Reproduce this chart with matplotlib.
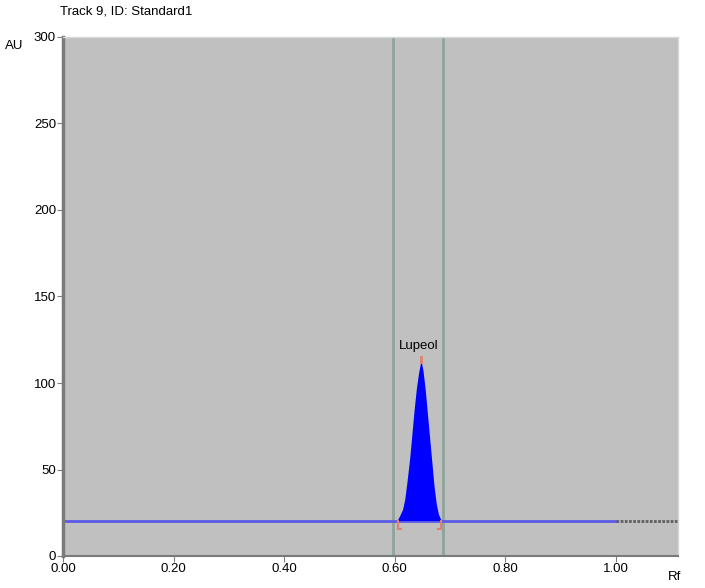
import matplotlib.pyplot as plt
import numpy as np

plt.rcParams['font.family'] = ['Liberation Sans', 'DejaVu Sans']

# densitogram of track 9 (Standard1)
baseline_au = 20.5
peak_rf = [0.604, 0.609, 0.614, 0.618, 0.622, 0.627, 0.631, 0.635, 0.639, 0.643, 0.646, 0.648,
           0.651, 0.655, 0.659, 0.663, 0.667, 0.671, 0.675, 0.679, 0.684]
peak_au = [20.5, 23.5, 27.0, 33.0, 43.0, 57.0, 71.0, 85.0, 97.0, 106.0, 111.0, 112.0,
           107.0, 96.0, 82.0, 68.0, 54.0, 40.0, 30.0, 24.0, 20.5]
peak_name = 'Lupeol'
peak_start, peak_max, peak_end = 0.606, 0.647, 0.684
window_lines = [0.597, 0.687]
scan_end = 1.00
x_max = 1.112

xticks = [0.0, 0.2, 0.4, 0.6, 0.8, 1.0]
xtick_labels = ['0.00', '0.20', '0.40', '0.60', '0.80', '1.00']
yticks = [0, 50, 100, 150, 200, 250, 300]

fig = plt.figure(figsize=(7.05, 5.88), dpi=100)
ax = fig.add_axes([63 / 705, 1 - 556 / 588, 615 / 705, 519 / 588])
ax.set_facecolor('#c0c0c0')

for x in window_lines:
    ax.axvline(x, color='#8ea59c', lw=2, zorder=1)

ax.fill_between(peak_rf, baseline_au, peak_au, color='#0000ff', lw=0, zorder=3)
ax.plot([0, scan_end], [baseline_au, baseline_au], color='#5a5ae6', lw=2, zorder=2)
ax.plot([scan_end, x_max], [baseline_au, baseline_au], color='#606060', lw=2,
        ls=(0, (1, 0.5)), zorder=2)

# peak start / end brackets and top marker
mark = '#e08070'
ax.plot([peak_start, peak_start, peak_start + 0.006], [baseline_au, baseline_au - 5, baseline_au - 5],
        color=mark, lw=1.5, zorder=4)
ax.plot([peak_end, peak_end, peak_end - 0.006], [baseline_au, baseline_au - 5, baseline_au - 5],
        color=mark, lw=1.5, zorder=4)
ax.plot([peak_max, peak_max], [112, 115], color=mark, lw=2, zorder=4)
ax.text(peak_max - 0.004, 118, peak_name, ha='center', va='bottom', fontsize=9.5)

ax.set_xlim(0, x_max)
ax.set_ylim(0, 300)
ax.set_xticks(xticks)
ax.set_xticklabels(xtick_labels)
ax.set_yticks(yticks)
ax.tick_params(axis='both', labelsize=9.5, length=4, color='#808080', pad=1)

for side in ['top', 'right']:
    ax.spines[side].set_color('#d8d8d8')
    ax.spines[side].set_linewidth(1)
ax.spines['left'].set_color('#7a7a7a')
ax.spines['left'].set_linewidth(2.5)
ax.spines['bottom'].set_color('#7a7a7a')
ax.spines['bottom'].set_linewidth(1.5)

fig.text(60 / 705, 1 - 12 / 588, 'Track 9, ID: Standard1', fontsize=9.5, va='center')
fig.text(5 / 705, 1 - 46 / 588, 'AU', fontsize=9.5, va='center')
fig.text(668 / 705, 1 - 577 / 588, 'Rf', fontsize=9.5, va='center')

fig.savefig('out.png', dpi=100)
